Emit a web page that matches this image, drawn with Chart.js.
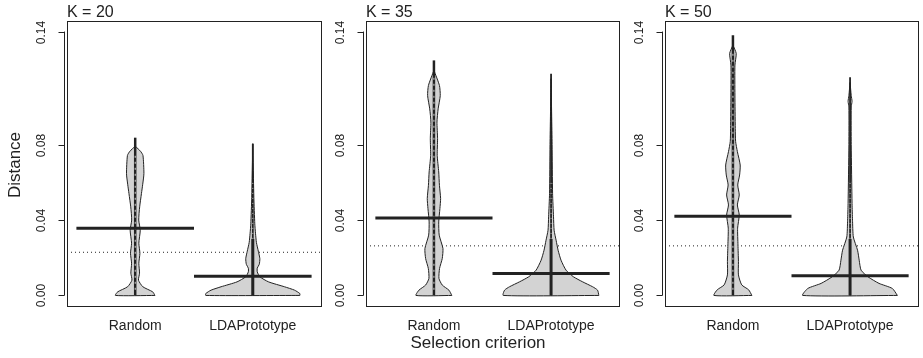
<!DOCTYPE html>
<html>
<head>
<meta charset="utf-8">
<script src="https://cdn.jsdelivr.net/npm/chart.js@4"></script>
<style>
  html, body { margin: 0; padding: 0; background: #fff; }
  #wrap { position: relative; width: 923px; height: 358px; }
  #wrap canvas { position: absolute; top: 0; }
</style>
</head>
<body>
<div id="wrap">
  <canvas id="p0" width="324" height="358" style="left:0px"></canvas>
  <canvas id="p1" width="323" height="358" style="left:299px"></canvas>
  <canvas id="p2" width="323" height="358" style="left:598px"></canvas>
</div>
<script>
// beanplot-like panels: Distance by selection criterion, K = 20 / 35 / 50

const panelTitles = ['K = 20', 'K = 35', 'K = 50'];
const categories = ['Random', 'LDAPrototype'];
const yTickValues = [0, 0.04, 0.08, 0.14];
const yTickLabels = ['0.00', '0.04', '0.08', '0.14'];

const randomMeans  = [0.0357, 0.0411, 0.0420];
const ldaMeans     = [0.0102, 0.0117, 0.0104];
const overallMeans = [0.0229, 0.0263, 0.0263];
const randomMax    = [0.0837, 0.1247, 0.1380];
const ldaMax       = [0.0805, 0.1176, 0.1158];

// bean outlines: distance levels and half widths (in category units)
const k20RandomY    = [0, 0.0019, 0.0046, 0.0081, 0.0118, 0.0171, 0.0224, 0.0277, 0.0346, 0.040, 0.047, 0.054, 0.059, 0.0646, 0.0743, 0.0765, 0.079];
const k20RandomHalf = [0.168, 0.149, 0.065, 0.028, 0.037, 0.031, 0.040, 0.031, 0.043, 0.030, 0.038, 0.053, 0.064, 0.074, 0.066, 0.045, 0.003];
const k20LdaY       = [0, 0.001, 0.0028, 0.0046, 0.0072, 0.0099, 0.0125, 0.0145, 0.0165, 0.0195, 0.0235, 0.028, 0.033, 0.038, 0.052, 0.0805];
const k20LdaHalf    = [0.400, 0.400, 0.355, 0.270, 0.134, 0.060, 0.038, 0.038, 0.055, 0.060, 0.047, 0.031, 0.023, 0.017, 0.009, 0.0];
const k35RandomY    = [0, 0.0028, 0.0055, 0.009, 0.0143, 0.0196, 0.0249, 0.032, 0.039, 0.0461, 0.0514, 0.0584, 0.0655, 0.0743, 0.0832, 0.092, 0.099, 0.106, 0.1114, 0.1194];
const k35RandomHalf = [0.153, 0.128, 0.071, 0.043, 0.048, 0.071, 0.077, 0.045, 0.041, 0.051, 0.057, 0.047, 0.041, 0.028, 0.031, 0.026, 0.036, 0.054, 0.047, 0.0];
const k35LdaY       = [0, 0.0028, 0.0046, 0.0072, 0.0099, 0.0134, 0.0187, 0.024, 0.0293, 0.0346, 0.0417, 0.054, 0.080, 0.115];
const k35LdaHalf    = [0.408, 0.397, 0.355, 0.270, 0.191, 0.128, 0.085, 0.060, 0.043, 0.026, 0.021, 0.013, 0.009, 0.0];
const k50RandomY    = [0, 0.003, 0.0056, 0.0109, 0.018, 0.0268, 0.0357, 0.0427, 0.048, 0.0533, 0.0586, 0.0639, 0.0692, 0.0763, 0.0816, 0.0886, 0.1063, 0.1222, 0.1284, 0.1328];
const k50RandomHalf = [0.162, 0.134, 0.075, 0.047, 0.047, 0.043, 0.040, 0.054, 0.038, 0.054, 0.041, 0.057, 0.062, 0.038, 0.023, 0.020, 0.017, 0.017, 0.028, 0.0];
const k50LdaY       = [0, 0.0037, 0.0064, 0.0099, 0.0134, 0.0187, 0.024, 0.031, 0.0399, 0.0487, 0.080, 0.100, 0.103, 0.106, 0.113];
const k50LdaHalf    = [0.404, 0.361, 0.247, 0.153, 0.094, 0.078, 0.064, 0.028, 0.021, 0.017, 0.010, 0.010, 0.017, 0.010, 0.0];

const beans = [
  [[k20RandomY, k20RandomHalf], [k20LdaY, k20LdaHalf]],
  [[k35RandomY, k35RandomHalf], [k35LdaY, k35LdaHalf]],
  [[k50RandomY, k50RandomHalf], [k50LdaY, k50LdaHalf]],
];

const FONT = '"Liberation Sans", Arial, Helvetica, sans-serif';
const INK = '#222';
const BEAN_FILL = '#d3d3d3';

function outline(center, ys, half) {
  const pts = [];
  for (let i = 0; i < ys.length; i++) pts.push({ x: center + half[i], y: ys[i] });
  for (let i = ys.length - 1; i >= 0; i--) pts.push({ x: center - half[i], y: ys[i] });
  pts.push({ x: center + half[0], y: ys[0] });
  return pts;
}

function seg(data, color, width, dash) {
  return {
    data, showLine: true, fill: false,
    borderColor: color, borderWidth: width, borderDash: dash || [],
    pointRadius: 0, tension: 0,
  };
}

const panelDecor = {
  id: 'panelDecor',
  afterDraw(chart, args, opts) {
    const { ctx, chartArea: a, scales: { x, y } } = chart;
    ctx.save();
    ctx.strokeStyle = INK;
    ctx.fillStyle = INK;
    ctx.lineWidth = 1;

    // frame
    const l = Math.round(a.left) + 0.5, t = Math.round(a.top) + 0.5;
    ctx.strokeRect(l, t, Math.round(a.right - a.left), Math.round(a.bottom - a.top));

    // y axis with rotated labels
    const ax = Math.round(a.left) - 3 + 0.5;
    ctx.beginPath();
    ctx.moveTo(ax, y.getPixelForValue(yTickValues[0]));
    ctx.lineTo(ax, y.getPixelForValue(yTickValues[yTickValues.length - 1]));
    ctx.stroke();
    ctx.font = '12px ' + FONT;
    ctx.textAlign = 'center';
    ctx.textBaseline = 'middle';
    yTickValues.forEach((v, i) => {
      const py = Math.round(y.getPixelForValue(v)) + 0.5;
      ctx.beginPath();
      ctx.moveTo(ax - 6, py);
      ctx.lineTo(ax, py);
      ctx.stroke();
      ctx.save();
      ctx.translate(a.left - 25, py);
      ctx.rotate(-Math.PI / 2);
      ctx.fillText(yTickLabels[i], 0, 0);
      ctx.restore();
    });

    // panel title
    ctx.font = '16px ' + FONT;
    ctx.textAlign = 'left';
    ctx.textBaseline = 'alphabetic';
    ctx.fillText(opts.title, a.left, a.top - 4);

    // category labels
    ctx.font = '14px ' + FONT;
    ctx.textAlign = 'center';
    categories.forEach((c, i) => ctx.fillText(c, x.getPixelForValue(i + 1), 330));

    ctx.font = '17px ' + FONT;
    if (opts.ylab) {
      ctx.save();
      ctx.translate(20, 165);
      ctx.rotate(-Math.PI / 2);
      ctx.fillText(opts.ylab, 0, 0);
      ctx.restore();
    }
    if (opts.xlab) ctx.fillText(opts.xlab, 179, 348);
    ctx.restore();
  }
};

function drawPanel(p) {
  const datasets = [];
  // mean lines (on top)
  datasets.push(seg([{ x: 0.5, y: randomMeans[p] }, { x: 1.5, y: randomMeans[p] }], INK, 3));
  datasets.push(seg([{ x: 1.5, y: ldaMeans[p] }, { x: 2.5, y: ldaMeans[p] }], INK, 3));
  // speckle of the bean lines
  datasets.push(seg([{ x: 1, y: 0.003 }, { x: 1, y: randomMax[p] - 0.008 }], 'rgba(255,255,255,0.8)', 1, [2, 4]));
  datasets.push(seg([{ x: 2, y: 0.03 }, { x: 2, y: 0.06 }], 'rgba(255,255,255,0.7)', 1, [1, 4]));
  // bean lines
  datasets.push(seg([{ x: 1, y: 0 }, { x: 1, y: randomMax[p] }], INK, 2.5));
  datasets.push(seg([{ x: 2, y: 0 }, { x: 2, y: 0.03 }], INK, 3));
  datasets.push(seg([{ x: 2, y: 0 }, { x: 2, y: ldaMax[p] }], INK, 1.8));
  // bean shapes
  beans[p].forEach(([ys, half], i) => {
    datasets.push({
      data: outline(i + 1, ys, half),
      showLine: true, fill: 'shape',
      backgroundColor: BEAN_FILL, borderColor: INK, borderWidth: 1,
      pointRadius: 0, tension: 0.2,
    });
  });
  // overall average, dotted
  datasets.push(seg([{ x: 0.42, y: overallMeans[p] }, { x: 2.58, y: overallMeans[p] }], INK, 1, [1, 3]));

  new Chart(document.getElementById('p' + p), {
    type: 'scatter',
    data: { datasets },
    options: {
      responsive: false,
      animation: false,
      devicePixelRatio: 1,
      layout: { padding: { left: 67, right: 3, top: 21, bottom: 52 } },
      scales: {
        x: { type: 'linear', min: 0.42, max: 2.58, display: false },
        y: { type: 'linear', min: -0.0056, max: 0.1456, display: false },
      },
      plugins: {
        legend: { display: false },
        tooltip: { enabled: false },
        panelDecor: {
          title: panelTitles[p],
          ylab: p === 0 ? 'Distance' : null,
          xlab: p === 1 ? 'Selection criterion' : null,
        },
      },
    },
    plugins: [panelDecor],
  });
}

[0, 1, 2].forEach(drawPanel);
</script>
</body>
</html>
